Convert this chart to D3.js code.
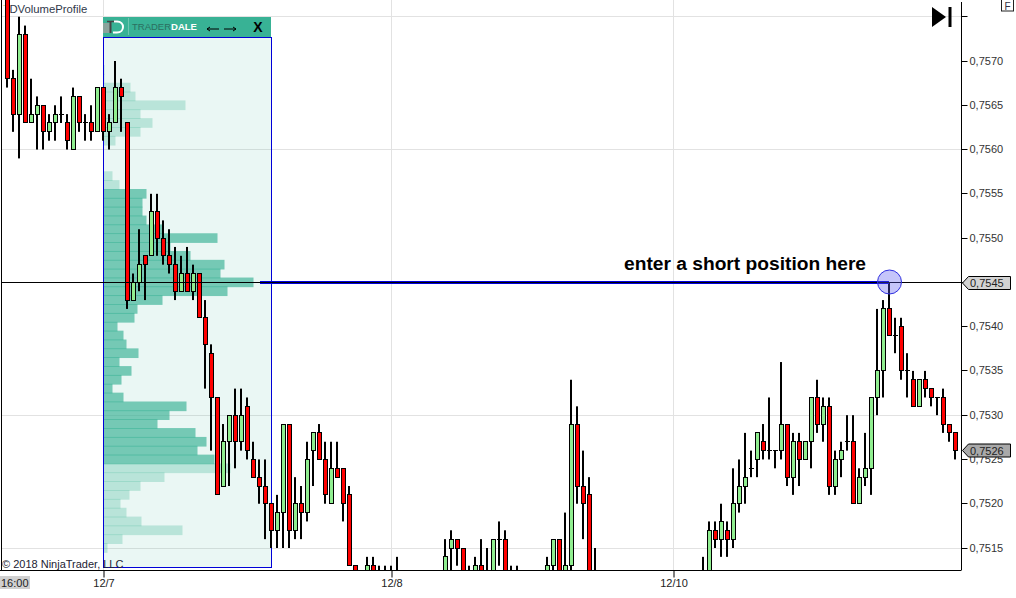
<!DOCTYPE html>
<html><head><meta charset="utf-8">
<style>html,body{margin:0;padding:0;background:#fff;overflow:hidden}svg{display:block}text{font-family:"Liberation Sans",Arial,sans-serif}</style>
<script src="https://cdnjs.cloudflare.com/ajax/libs/d3/7.8.5/d3.min.js"></script>
</head><body><svg id="c" width="1016" height="598"></svg>
<script>
const n=null;
const opens=[7578,7568,7564,7573,7563,7564,7565,7562,7563,7564,
7563,7560,7566,7563,7563,7562,7567,7562,7563,7567,
7563,7543,7545,7548,7548,7553,7550,7548,7547,7544,
7546,7544,7546,7541,7537,7532,7522,7527,7530,7527,
7531,7525,7523,7522,7520,7517,7519,7529,7517,7520,
7519,7526,7528,7525,7520,7524,7524,7521,7513,n,
7512,7513,7512,7512,7512,7512,n,n,n,n,
n,n,n,7512,7515,7516,7515,7512,7512,7513,
7512,7512,7516,7516,7512,7512,n,n,n,n,
7512,7513,7516,7512,7513,7529,7522,7521,7512,n,
n,n,n,n,n,n,n,n,n,n,
n,n,n,n,n,n,7512,7512,7517,7516,
7517,7516,7520,7522,7524,7525,7527,7526,7526,7526,
7529,7523,7527,7525,7527,7532,7529,7531,7522,7525,
7527,7527,7520,7523,7524,7532,7535,7542,7539,7540,
7535,7534,7531,7534,7533,7532,7532,7529,7528];
const closes=[7568,7564,7573,7563,7564,7565,7562,7563,7564,7564,
7561,7566,7563,7563,7562,7567,7562,7563,7567,7566,
7543,7545,7547,7547,7553,7550,7548,7547,7544,7546,
7544,7546,7541,7538,7532,7521,7527,7530,7527,7530,
7526,7523,7522,7520,7517,7519,7529,7517,7520,7519,
7525,7528,7525,7521,7524,7523,7520,7513,7512,n,
7513,7512,7511,7511,7511,7511,n,n,n,n,
n,n,n,7514,7516,7515,7512,7511,7513,7512,
7511,7516,7516,7512,7511,7511,n,n,n,n,
7513,7516,7512,7513,7529,7522,7520,7512,7511,n,
n,n,n,n,n,n,n,n,n,n,
n,n,n,n,n,n,7511,7517,7516,7518,
7516,7520,7522,7523,7524,7528,7526,7526,7526,7529,
7523,7527,7525,7527,7532,7529,7531,7522,7525,7526,
7527,7520,7523,7524,7532,7535,7542,7539,7539,7535,
7535,7531,7534,7533,7532,7532,7529,7528,7526];
const highs=[7578,7569,7575,7574,7568,7566,7565,7564,7565,7566,
7564,7567,7566,7564,7565,7567,7567,7564,7570,7568,
7563,7546,7551,7548,7555,7555,7552,7551,7549,7548,
7549,7547,7546,7543,7538,7532,7529,7530,7533,7533,
7532,7527,7525,7525,7520,7521,7529,7529,7523,7522,
7527,7528,7529,7527,7527,7527,7524,7522,7513,n,
7514,7514,7513,7513,7513,7514,n,n,n,n,
n,n,n,7516,7517,7516,7515,7513,7514,7516,
7515,7516,7518,7517,7513,7513,n,n,n,n,
7514,7516,7516,7519,7534,7531,7526,7523,7515,n,
n,n,n,n,n,n,n,n,n,n,
n,n,n,n,n,n,7514,7518,7518,7520,
7518,7524,7525,7528,7526,7528,7529,7532,7526,7536,
7529,7528,7528,7527,7532,7534,7532,7532,7526,7527,
7530,7530,7524,7528,7532,7542,7543,7545,7541,7541,
7537,7535,7534,7535,7533,7532,7533,7529,7528];
const lows=[7567,7562,7559,7563,7563,7560,7560,7561,7561,7563,
7560,7560,7562,7561,7561,7562,7561,7560,7563,7562,
7542,7543,7544,7543,7548,7548,7547,7546,7543,7544,
7544,7543,7541,7533,7526,7521,7522,7522,7524,7526,
7525,7523,7520,7516,7515,7515,7515,7515,7516,7516,
7518,7522,7525,7520,7520,7523,7518,7513,7512,n,
7512,7512,7510,7510,7510,7510,n,n,n,n,
n,n,n,7512,7512,7513,7512,7510,7512,7512,
7510,7512,7513,7512,7511,7511,n,n,n,n,
7512,7512,7512,7512,7512,7520,7516,7512,7511,n,
n,n,n,n,n,n,n,n,n,n,
n,n,n,n,n,n,7511,7512,7515,7514,
7514,7515,7519,7520,7523,7523,7525,7525,7524,7525,
7522,7521,7522,7525,7524,7528,7527,7521,7521,7523,
7526,7520,7520,7522,7521,7530,7532,7539,7537,7534,
7532,7531,7531,7532,7531,7530,7528,7527,7525];

const profilePrices=[7569,7568,7567,7566,7565,7564,7563,7562,7561,7557,7556,7555,7554,7553,7552,7551,7550,7549,7548,7547,7546,7545,7544,7543,7542,7541,7540,7539,7538,7537,7536,7535,7534,7533,7532,7531,7530,7529,7528,7527,7526,7525,7524,7523,7522,7521,7520,7519,7518,7517,7516,7515];
const profileVolumes=[1,1,27,32,82,37,49,37,12,9,16,43,39,39,43,60,114,67,87,121,117,150,124,59,34,31,14,20,23,35,16,28,18,9,20,83,66,54,92,103,94,111,127,61,37,26,17,23,38,79,19,4];
const valueAreaHigh=7555, valueAreaLow=7525;

const priceTicks=[7575,7570,7565,7560,7555,7550,7545,7540,7535,7530,7525,7520,7515];
const unlabelledTicks=[7575];
const gridPrices=[7575,7560,7530,7515];
const dateIndex=[16,64,111];
const dateLabels=["12/7","12/8","12/10"];
const entryPrice=7545, lastPrice=7526;
const profileStart=16;
const fmt=p=>"0,"+p;

const svg=d3.select("#c");
const x=d3.scaleLinear().domain([0,158]).range([7,955]);
const y=d3.scaleLinear().domain([7570,7515]).range([61,548]);
const px=v=>Math.floor(y(v))+0.5;
const plotR=961, plotB=570;
svg.append("defs").append("clipPath").attr("id","plot").append("rect").attr("x",0).attr("y",0).attr("width",plotR).attr("height",plotB);

// grid
const grid=svg.append("g").attr("stroke","#e2e2e2").attr("stroke-width",1);
grid.selectAll("line.h").data(gridPrices).join("line").attr("x1",1).attr("x2",plotR).attr("y1",px).attr("y2",px);
grid.selectAll("line.v").data(dateIndex).join("line").attr("x1",i=>x(i)+.5).attr("x2",i=>x(i)+.5).attr("y1",0).attr("y2",plotB);

// caption behind candles
const cap=svg.append("text").attr("x",3).attr("y",13).attr("font-size",11.3).attr("fill","#30384a");
cap.append("tspan").attr("fill","#e6cf9a").text("T");
cap.append("tspan").attr("dx",-0.5).text("DVolumeProfile");

// panel
const pL=x(profileStart)+.5, pR=271.5, pT=37.5, pB=567.5;
svg.append("rect").attr("x",pL).attr("y",pT).attr("width",pR-pL).attr("height",pB-pT).attr("fill","#38b295").attr("fill-opacity",.105);
const pitch=y(7544)-y(7545);
const bw=d3.scaleLinear().domain([0,150]).range([0,150]);
svg.append("g").selectAll("rect").data(profilePrices).join("rect")
 .attr("x",pL).attr("y",p=>y(p)-pitch/2-.4).attr("height",pitch+.8)
 .attr("width",(p,i)=>bw(profileVolumes[i]))
 .attr("fill","#38b295")
 .attr("fill-opacity",p=>(p<=valueAreaHigh&&p>=valueAreaLow)?.66:.28);
svg.append("rect").attr("x",pL).attr("y",pT).attr("width",pR-pL).attr("height",pB-pT).attr("fill","none").attr("stroke","#0000d8");

// header
const hd=svg.append("g");
hd.append("rect").attr("x",103).attr("y",17).attr("width",168).attr("height",20).attr("fill","#38b295");
hd.append("rect").attr("x",103).attr("y",23).attr("width",8).attr("height",10).attr("fill","#8aa39c");
hd.append("path").attr("d","M107 21.5H117").attr("stroke","#444").attr("stroke-width",1.5);
hd.append("path").attr("d","M110.5 21V33").attr("stroke","#444").attr("stroke-width",2);
hd.append("path").attr("d","M114 21.5H117C125 21.5 125 32.5 117 32.5H113").attr("fill","none").attr("stroke","#fff").attr("stroke-width",2);
hd.append("line").attr("x1",128.5).attr("x2",128.5).attr("y1",18).attr("y2",35).attr("stroke","#6cc6b0");
const tt=hd.append("text").attr("x",132).attr("y",30).attr("font-size",9.5);
tt.append("tspan").attr("fill","#2b6f60").text("TRADER");
tt.append("tspan").attr("fill","#fff").attr("font-weight","bold").text("DALE");
hd.append("g").attr("stroke","#000").attr("fill","none").selectAll("path").data(["M219 29H207M210 27L207 29L210 31","M224 29H236M233 27L236 29L233 31"]).join("path").attr("d",d=>d);
hd.append("text").attr("x",258).attr("y",32).attr("text-anchor","middle").attr("font-size",14).attr("font-weight","bold").attr("fill","#000").text("X");

// candles
const idx=d3.range(opens.length).filter(i=>opens[i]!==null);
const cg=svg.append("g").attr("clip-path","url(#plot)");
cg.selectAll("rect.w").data(idx).join("rect").attr("class","w")
 .attr("x",i=>x(i)-1).attr("width",2).attr("y",i=>y(highs[i])).attr("height",i=>y(lows[i])-y(highs[i])).attr("fill","#000");
cg.selectAll("rect.b").data(idx.filter(i=>opens[i]!==closes[i])).join("rect").attr("class","b")
 .attr("x",i=>x(i)-1.5).attr("width",4)
 .attr("y",i=>px(Math.max(opens[i],closes[i])))
 .attr("height",i=>px(Math.min(opens[i],closes[i]))-px(Math.max(opens[i],closes[i])))
 .attr("fill",i=>closes[i]>opens[i]?"#90ee90":"#ff0000").attr("stroke","#000");
cg.selectAll("line.d").data(idx.filter(i=>opens[i]===closes[i])).join("line").attr("class","d")
 .attr("x1",i=>x(i)-2).attr("x2",i=>x(i)+3).attr("y1",i=>px(opens[i])).attr("y2",i=>px(opens[i])).attr("stroke","#000");

// annotation
svg.append("line").attr("x1",260).attr("x2",x(147)).attr("y1",px(entryPrice)).attr("y2",px(entryPrice)).attr("stroke","#0000dd").attr("stroke-width",3);
svg.append("line").attr("x1",1).attr("x2",plotR).attr("y1",px(entryPrice)).attr("y2",px(entryPrice)).attr("stroke","#000");
svg.append("circle").attr("cx",889.5).attr("cy",282).attr("r",12).attr("fill","#5a5af0").attr("fill-opacity",.35).attr("stroke","#3030e0");
svg.append("text").attr("x",624).attr("y",270).attr("font-size",19.2).attr("font-weight","bold").attr("fill","#000").text("enter a short position here");

// frame and axes
svg.append("line").attr("x1",1.5).attr("x2",1.5).attr("y1",0).attr("y2",plotB).attr("stroke","#000");
const ya=d3.axisRight(y).tickValues(priceTicks).tickSize(6).tickPadding(2).tickFormat(p=>unlabelledTicks.includes(p)?"":fmt(p));
const yg=svg.append("g").attr("transform",`translate(${plotR+.5},0)`).call(ya);
yg.select(".domain").attr("d",`M0 2V${plotB}`).attr("stroke","#000");
yg.selectAll(".tick line").attr("stroke","#000").attr("y1",0).attr("y2",0);
yg.selectAll(".tick").attr("transform",p=>`translate(0,${px(p)})`);
yg.selectAll("text").attr("font-size",11).attr("font-family","Liberation Sans").attr("fill","#333").attr("dy",".34em");

const xa=d3.axisBottom(x).tickValues(dateIndex).tickSize(7).tickPadding(2).tickFormat((d,i)=>dateLabels[i]);
const xg=svg.append("g").attr("transform",`translate(0.5,${plotB+.5})`).call(xa);
xg.select(".domain").attr("d",`M-0.5 0H${plotR}`).attr("stroke","#000");
xg.selectAll(".tick line").attr("stroke","#000");
xg.selectAll("text").attr("font-size",11).attr("font-family","Liberation Sans").attr("fill","#222");

svg.append("rect").attr("x",0).attr("y",576).attr("width",30).attr("height",13).attr("fill","#d0d0d0");
svg.append("text").attr("x",1).attr("y",587).attr("font-size",11).attr("fill","#222").text("16:00");
svg.append("text").attr("x",2).attr("y",568).attr("font-size",11).attr("fill","#223").text("© 2018 NinjaTrader, LLC");

// price markers
function marker(p,fill,cy){
 const t=cy-6.5,b=cy+6.5;
 svg.append("path").attr("d",`M962.5 ${cy}L968.5 ${t}H1010.5V${b}H968.5Z`).attr("fill",fill).attr("stroke","#000");
 svg.append("text").attr("x",970).attr("y",cy+4).attr("font-size",11).attr("fill","#222").text(fmt(p));
}
marker(entryPrice,"#d3d3d3",px(entryPrice)+.5);
marker(lastPrice,"#a9a9a9",450.5);

// toolbar icons
svg.append("path").attr("d","M932 7L946 17L932 27Z").attr("fill","#000");
svg.append("rect").attr("x",948.5).attr("y",7).attr("width",3).attr("height",20).attr("fill","#000");
svg.append("rect").attr("x",1001.5).attr("y",-1).attr("width",12).attr("height",12).attr("fill","#fff").attr("stroke","#222");
svg.append("text").attr("x",1007.5).attr("y",9.5).attr("text-anchor","middle").attr("font-size",10).attr("fill","#334").text("F");
</script></body></html>
